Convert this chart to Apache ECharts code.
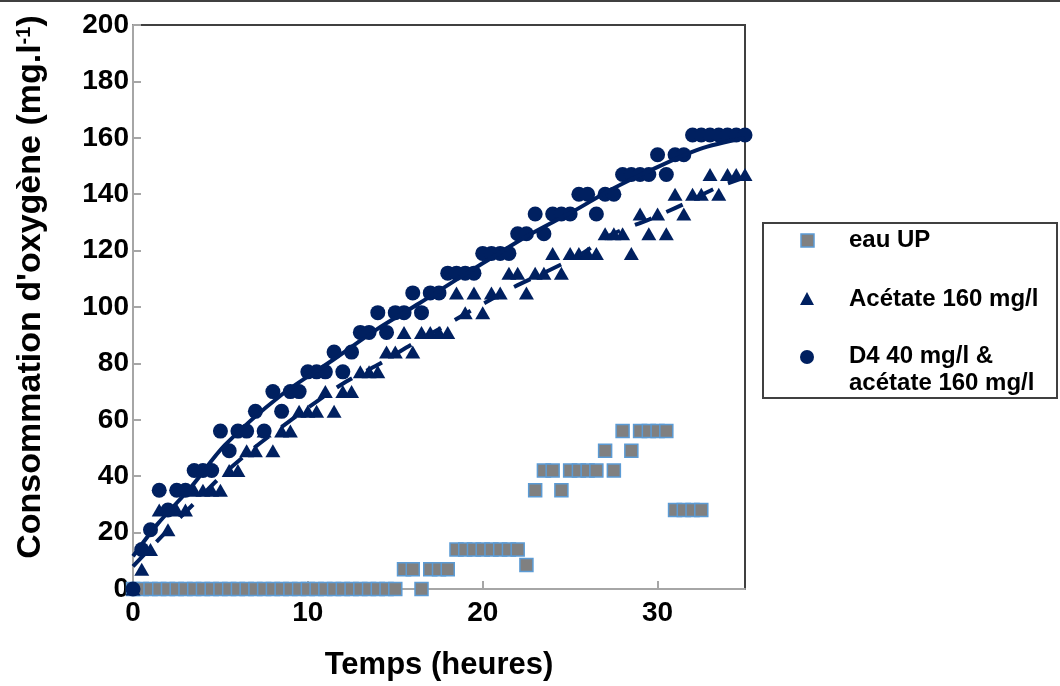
<!DOCTYPE html>
<html>
<head>
<meta charset="utf-8">
<script src="https://cdn.jsdelivr.net/npm/echarts@6/dist/echarts.min.js"></script>
<style>html,body{margin:0;padding:0;background:#fff;}#c{width:1060px;height:686px;}</style>
</head>
<body>
<div id="c"></div>
<script>
// ---- Data ----
const eauT = [0,0.5,1,1.5,2,2.5,3,3.5,4,4.5,5,5.5,6,6.5,7,7.5,8,8.5,9,9.5,10,10.5,11,11.5,12,12.5,13,13.5,14,14.5,15,
  15.5,16,16.5,17,17.5,18,18.5,19,19.5,20,20.5,21,21.5,22,22.5,23,23.5,24,24.5,25,25.5,26,26.5,27,27.5,28,28.5,29,29.5,30,30.5,31,31.5,32,32.5];
const eauV = [0,0,0,0,0,0,0,0,0,0,0,0,0,0,0,0,0,0,0,0,0,0,0,0,0,0,0,0,0,0,0,
  7,7,0,7,7,7,14,14,14,14,14,14,14,14,8.5,35,42,42,35,42,42,42,42,49,42,56,49,56,56,56,56,28,28,28,28];

const acetT = [0,0.5,1,1.5,2,2.5,3,3.5,4,4.5,5,5.5,6,6.5,7,7.5,8,8.5,9,9.5,10,10.5,11,11.5,12,12.5,13,13.5,14,14.5,15,15.5,16,16.5,17,17.5,
  18,18.5,19,19.5,20,20.5,21,21.5,22,22.5,23,23.5,24,24.5,25,25.5,26,26.5,27,27.5,28,28.5,29,29.5,30,30.5,31,31.5,32,32.5,33,33.5,34,34.5,35];
const acetV = [0,7,14,28,21,28,28,35,35,35,35,42,42,49,49,56,49,56,56,63,63,63,70,63,70,70,77,77,77,84,84,91,84,91,91,91,
  91,105,98,105,98,105,105,112,112,105,112,112,119,112,119,119,119,119,126,126,126,119,133,126,133,126,140,133,140,140,147,140,147,147,147];

const d4T = [0,0.5,1,1.5,2,2.5,3,3.5,4,4.5,5,5.5,6,6.5,7,7.5,8,8.5,9,9.5,10,10.5,11,11.5,12,12.5,13,13.5,14,14.5,15,15.5,16,16.5,17,17.5,
  18,18.5,19,19.5,20,20.5,21,21.5,22,22.5,23,23.5,24,24.5,25,25.5,26,26.5,27,27.5,28,28.5,29,29.5,30,30.5,31,31.5,32,32.5,33,33.5,34,34.5,35];
const d4V = [0,14,21,35,28,35,35,42,42,42,56,49,56,56,63,56,70,63,70,70,77,77,77,84,77,84,91,91,98,91,98,98,105,98,105,105,
  112,112,112,112,119,119,119,119,126,126,133,126,133,133,133,140,140,133,140,140,147,147,147,147,154,147,154,154,161,161,161,161,161,161,161];

// trend lines
const d4TrendT = [0,1.4,3.3,5.25,8.5,11.45,13.9,16.4,18.5,20,22.5,25.2,27.3,29.6,32.4,35];
const d4TrendV = [11.6,23,36,51,68.9,81.3,91.9,101.4,109.7,115.5,125,134,141.5,148.5,156,160];
const acetTrendT = [0,2,3.6,5.15,6.8,7.9,10.4,12.2,14,15.74,17.94,19.75,21.66,23.66,25.57,27.3,29.5,31.4,33.3,35];
const acetTrendV = [8,21,31,40.6,49.4,54.7,66,73.6,79.5,86,93.7,100.2,106.7,112.6,118.5,125.5,131,136.2,142.1,146];

const seriesNames = ['eau UP', 'Acétate 160 mg/l', 'D4 40 mg/l &\nacétate 160 mg/l'];
const legendLines = ['eau UP', 'Acétate 160 mg/l', 'D4 40 mg/l &', 'acétate 160 mg/l'];
const xTitle = 'Temps (heures)';
const yTitle = "Consommation d'oxygène (mg.l{sup|-1})";

const zip = (a, b) => a.map((v, i) => [v, b[i]]);
const NAVY = '#002060';
const FONT = 'Liberation Sans, Arial, sans-serif';

const chart = echarts.init(document.getElementById('c'), null, {renderer: 'canvas'});
const axisCommon = {
  axisLine: {show: true, lineStyle: {color: '#a6a6a6', width: 2}},
  axisTick: {show: true, inside: true, length: 8, lineStyle: {color: '#a6a6a6', width: 2}},
  splitLine: {show: false},
  axisLabel: {color: '#000', fontSize: 28, fontWeight: 'bold', fontFamily: FONT}
};
const legendFont = 'bold 24px ' + FONT;

chart.setOption({
  animation: false,
  backgroundColor: '#fff',
  grid: {left: 133, right: 315, top: 25, bottom: 96, show: true, borderColor: '#404040', borderWidth: 2, containLabel: false},
  xAxis: Object.assign({}, axisCommon, {
    type: 'value', min: 0, max: 35, interval: 10,
    axisLabel: Object.assign({}, axisCommon.axisLabel, {margin: 10, showMaxLabel: false}),
    name: xTitle, nameLocation: 'middle', nameGap: 61,
    nameTextStyle: {color: '#000', fontSize: 31, fontWeight: 'bold', fontFamily: FONT}
  }),
  yAxis: Object.assign({}, axisCommon, {
    type: 'value', min: 0, max: 200, interval: 20,
    axisLabel: Object.assign({}, axisCommon.axisLabel, {margin: 4}),
    name: yTitle, nameLocation: 'middle', nameGap: 85, nameRotate: 90,
    nameTextStyle: {color: '#000', fontSize: 34, fontWeight: 'bold', fontFamily: FONT, padding: [0, 0, 0, 40],
      rich: {sup: {fontSize: 20, fontWeight: 'bold', fontFamily: FONT, color: '#000', verticalAlign: 'top', padding: [0, 0, 14, 0]}}}
  }),
  series: [
    {name: seriesNames[0], type: 'scatter', data: zip(eauT, eauV), symbol: 'rect', symbolSize: 13,
      itemStyle: {color: '#808080', borderColor: '#5B9BD5', borderWidth: 1.5, opacity: 1}, z: 2},
    {name: seriesNames[1], type: 'scatter', data: zip(acetT, acetV), symbol: 'triangle', symbolSize: [15, 13],
      itemStyle: {color: NAVY, opacity: 1}, z: 3},
    {name: seriesNames[2], type: 'scatter', data: zip(d4T, d4V), symbol: 'circle', symbolSize: 15,
      itemStyle: {color: NAVY, opacity: 1}, z: 4},
    {name: 'trend D4', type: 'line', data: zip(d4TrendT, d4TrendV), showSymbol: false, smooth: 0.3,
      lineStyle: {color: NAVY, width: 4}, z: 5, silent: true},
    {name: 'trend acetate', type: 'line', data: zip(acetTrendT, acetTrendV), showSymbol: false, smooth: 0.3,
      lineStyle: {color: NAVY, width: 4, type: [18, 16]}, z: 5, silent: true}
  ],
  graphic: [
    {type: 'line', shape: {x1: 0, y1: 1, x2: 1060, y2: 1}, style: {stroke: '#404040', lineWidth: 2}},
    {type: 'rect', shape: {x: 763, y: 223, width: 294, height: 175}, style: {fill: '#fff', stroke: '#404040', lineWidth: 2}},
    {type: 'rect', shape: {x: 801, y: 234, width: 13, height: 13}, style: {fill: '#808080', stroke: '#5B9BD5', lineWidth: 1.5}},
    {type: 'polygon', shape: {points: [[807, 292], [800, 305], [814, 305]]}, style: {fill: NAVY}},
    {type: 'circle', shape: {cx: 807, cy: 357, r: 7}, style: {fill: NAVY}},
    {type: 'text', x: 849, y: 240, style: {text: legendLines[0], fill: '#000', font: legendFont, verticalAlign: 'middle'}},
    {type: 'text', x: 849, y: 299, style: {text: legendLines[1], fill: '#000', font: legendFont, verticalAlign: 'middle'}},
    {type: 'text', x: 849, y: 356, style: {text: legendLines[2], fill: '#000', font: legendFont, verticalAlign: 'middle'}},
    {type: 'text', x: 849, y: 383, style: {text: legendLines[3], fill: '#000', font: legendFont, verticalAlign: 'middle'}}
  ]
});
</script>
</body>
</html>
